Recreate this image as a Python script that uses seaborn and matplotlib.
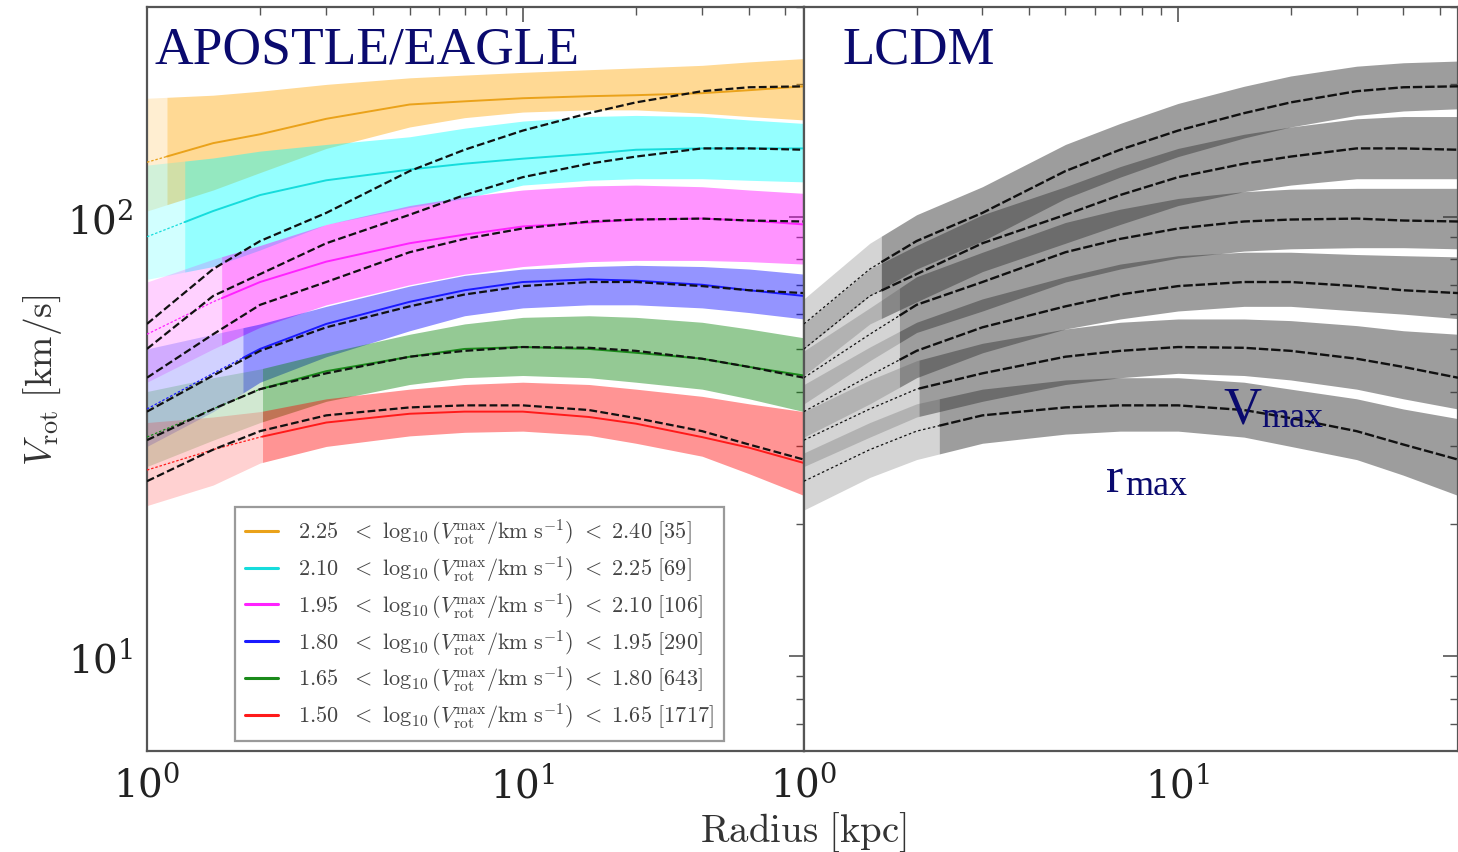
import numpy as np
import pandas as pd
import matplotlib
matplotlib.use("Agg")
import matplotlib.pyplot as plt
from matplotlib.lines import Line2D
from matplotlib.ticker import NullFormatter, LogLocator
import seaborn as sns

# ---------------- data ----------------
R = [1, 1.5, 2, 3, 5, 7, 10, 15, 20, 30, 40, 56]  # kpc

bin_lo = ["2.25", "2.10", "1.95", "1.80", "1.65", "1.50"]
bin_hi = ["2.40", "2.25", "2.10", "1.95", "1.80", "1.65"]
bin_n = [35, 69, 106, 290, 643, 1717]

# APOSTLE/EAGLE medians and spread, one per bin (top to bottom)
orange_med = [133, 147, 154, 167, 180, 183, 186, 188, 189, 191, 194, 198]
orange_hi = [186, 189, 193, 200, 207, 210, 213, 216, 218, 221, 225, 229]
orange_lo = [103, 115, 126, 143, 160, 168, 173, 175, 175, 172, 169, 166]

cyan_med = [90, 103, 112, 121, 128, 132, 135.5, 139, 142, 143, 143, 143]
cyan_hi = [131, 136, 141, 146, 152, 159, 165, 169, 170, 169, 166, 163]
cyan_lo = [72, 77, 84, 96, 105, 110, 118, 121, 122, 122, 121, 120]

magenta_med = [54, 64, 71, 79, 87, 91, 95, 97, 98.5, 99, 98, 96]
magenta_hi = [71, 80, 86, 96, 106, 111, 115, 117.5, 118, 117, 115, 113]
magenta_lo = [42, 50, 56, 63, 70, 74, 77, 79, 79.5, 79.5, 79, 78]

blue_med = [36.5, 44, 50, 57, 64, 68, 71, 72, 71.5, 70, 68, 66]
blue_hi = [50, 54, 57, 62.5, 69.5, 73.5, 76, 77, 77.5, 77, 76, 74]
blue_lo = [30, 36, 42, 48, 55, 59.5, 62, 63, 63, 62, 60.5, 58.5]

green_med = [31.5, 36.5, 40.5, 44.5, 48, 50, 50.5, 50, 49, 47.5, 45.5, 43.5]
green_hi = [40, 43, 45, 49, 54, 57, 59, 59.5, 59, 57.5, 55.5, 53]
green_lo = [27, 31, 34, 38, 41.5, 43, 43.5, 43, 42, 40.5, 38.5, 36]

red_med = [26.5, 29.5, 31.5, 34, 35.6, 36, 36, 35, 33.8, 31.5, 29.8, 27.5]
red_hi = [34, 35, 36, 38.5, 40.5, 41.5, 42, 41.5, 40.5, 39, 37.5, 36]
red_lo = [22, 24.5, 27.5, 30, 31.7, 32.3, 32.5, 31.8, 30.5, 28.5, 26, 23.2]

apo_rconv = [1.13, 1.26, 1.58, 1.8, 2.03, 2.03]

# LCDM medians and spread (same bins)
lcdm_a = [57, 76, 88, 102, 127, 142, 157, 172, 182, 193, 197, 198]
lcdm_a_hi = [65, 87, 101, 117, 146, 163, 181, 198, 209, 220, 224, 226]
lcdm_a_lo = [50, 66, 76, 88, 110, 123, 137, 151, 160, 170, 174, 176]
lcdm_b = [50, 66, 74, 87, 101, 112, 123, 132, 137, 143, 143, 142]
lcdm_b_hi = [57, 76, 86, 101, 117, 130, 143, 154, 160, 167, 169, 169]
lcdm_b_lo = [43.5, 57, 64, 75, 87, 96, 106, 114, 118, 122, 122, 122]
lcdm_c = [43, 54, 63, 71, 83, 89, 94, 97.5, 98.5, 99, 98, 97.5]
lcdm_c_hi = [49.5, 62, 73, 83, 97, 104, 110, 114, 115.5, 116, 116, 116]
lcdm_c_lo = [37.5, 47, 54.5, 61, 71, 76, 80.5, 83.5, 84.5, 85, 85, 84.5]
lcdm_d = [36, 43.5, 49.5, 56, 62.5, 66.5, 69.5, 71, 71, 69.5, 68, 67]
lcdm_d_hi = [41.5, 50.5, 57.5, 65, 73, 78, 81.5, 83, 83, 82, 81.5, 81]
lcdm_d_lo = [31.5, 37.5, 43, 49, 55.5, 58.5, 61, 62.5, 62.5, 61, 60, 58.6]
lcdm_e = [31, 36.5, 40.5, 44, 48, 49.5, 50.5, 50.3, 49.5, 47.5, 45.5, 43]
lcdm_e_hi = [36, 42.5, 47, 51.5, 55.5, 57.5, 58.5, 58.5, 58, 56.5, 55, 54]
lcdm_e_lo = [27, 31.5, 35, 38, 41.5, 43, 44, 43.5, 42.5, 40.5, 38.5, 36.5]
lcdm_f = [25, 29.5, 32.5, 35.3, 36.8, 37.2, 37.2, 36.3, 34.8, 32.5, 30.3, 28]
lcdm_f_hi = [29, 34, 37.5, 40.5, 42.5, 43, 43, 42, 40.5, 38.5, 36.5, 34.7]
lcdm_f_lo = [21.5, 25.5, 28, 30.5, 32, 32.5, 32.5, 31.5, 30, 28, 25.8, 23.2]

lcdm_rconv = [1.61, 1.61, 1.8, 1.8, 2.03, 2.3]

# ---------------- style ----------------
sns.set_theme(style="white")
plt.rcParams["font.family"] = ["DejaVu Serif"]
plt.rcParams["mathtext.fontset"] = "cm"

band_colors = ["orange", "cyan", "magenta", "blue", "green", "red"]
line_colors = ["#eaa21a", "#16dcdc", "#ff22ff", "#1a1aff", "#1a8a1a", "#ff1a1a"]
navy = "#0a0a6e"
spine_c = "#555555"

apo = [(orange_med, orange_lo, orange_hi), (cyan_med, cyan_lo, cyan_hi),
       (magenta_med, magenta_lo, magenta_hi), (blue_med, blue_lo, blue_hi),
       (green_med, green_lo, green_hi), (red_med, red_lo, red_hi)]
lcdm = [(lcdm_a, lcdm_a_lo, lcdm_a_hi), (lcdm_b, lcdm_b_lo, lcdm_b_hi),
        (lcdm_c, lcdm_c_lo, lcdm_c_hi), (lcdm_d, lcdm_d_lo, lcdm_d_hi),
        (lcdm_e, lcdm_e_lo, lcdm_e_hi), (lcdm_f, lcdm_f_lo, lcdm_f_hi)]


def split(r, v, rc):
    r = np.asarray(r, float)
    v = np.asarray(v, float)
    lv = 10 ** np.interp(np.log10(rc), np.log10(r), np.log10(v))
    m = r < rc
    return (np.r_[r[m], rc], np.r_[v[m], lv]), (np.r_[rc, r[~m]], np.r_[lv, v[~m]])


def band(ax, r, lo, hi, rc, color, a_light, a_full):
    (r1, l1), (r2, l2) = split(r, lo, rc)
    (_, h1), (_, h2) = split(r, hi, rc)
    ax.fill_between(r1, l1, h1, color=color, alpha=a_light, lw=0, zorder=1)
    ax.fill_between(r2, l2, h2, color=color, alpha=a_full, lw=0, zorder=1)


def line(ax, r, v, rc, color, lw_light, lw_full, ls_light, ls_full, z):
    (r1, v1), (r2, v2) = split(r, v, rc)
    d1 = pd.DataFrame({"r": r1, "v": v1})
    d2 = pd.DataFrame({"r": r2, "v": v2})
    sns.lineplot(data=d1, x="r", y="v", ax=ax, color=color, lw=lw_light,
                 ls=ls_light, legend=False, zorder=z, sort=False)
    sns.lineplot(data=d2, x="r", y="v", ax=ax, color=color, lw=lw_full,
                 ls=ls_full, legend=False, zorder=z, sort=False)


fig = plt.figure(figsize=(14.58, 8.53), dpi=100)
axL = fig.add_axes([0.1008, 0.1184, 0.4506, 0.8722])
axR = fig.add_axes([0.5514, 0.1184, 0.4486, 0.8722])

for ax in (axL, axR):
    ax.set_xscale("log")
    ax.set_yscale("log")

# left panel: APOSTLE/EAGLE
for (med, lo, hi), rc, bc in zip(apo, apo_rconv, band_colors):
    band(axL, R, lo, hi, rc, bc, 0.18, 0.42)
for (med, lo, hi), rc, lc in zip(apo, apo_rconv, line_colors):
    line(axL, R, med, rc, lc, 0.9, 1.4, (0, (2, 1.5)), "-", 3)
for (med, lo, hi) in lcdm:
    d = pd.DataFrame({"r": R, "v": med})
    sns.lineplot(data=d, x="r", y="v", ax=axL, color="#111111", lw=1.6,
                 ls=(0, (3.5, 1.5)), legend=False, zorder=4, sort=False)

# right panel: LCDM
for (med, lo, hi), rc in zip(lcdm, lcdm_rconv):
    band(axR, R, lo, hi, rc, "#3c3c3c", 0.22, 0.5)
for (med, lo, hi), rc in zip(lcdm, lcdm_rconv):
    line(axR, R, med, rc, "#111111", 0.9, 1.7, (0, (2, 2)), (0, (4, 1.2)), 4)

for ax in (axL, axR):
    ax.set_xlim(1, 56)
    ax.set_ylim(6.08, 300)
    ax.set_xlabel("")
    ax.set_ylabel("")
    ax.xaxis.set_major_locator(LogLocator(base=10, numticks=10))
    ax.xaxis.set_minor_locator(LogLocator(base=10, subs=np.arange(2, 10), numticks=20))
    ax.yaxis.set_minor_locator(LogLocator(base=10, subs=np.arange(2, 10), numticks=20))
    ax.xaxis.set_minor_formatter(NullFormatter())
    ax.yaxis.set_minor_formatter(NullFormatter())
    ax.tick_params(which="both", direction="in", top=True, right=True,
                   color=spine_c, labelcolor="#222222", labelsize=28, pad=10)
    ax.tick_params(which="major", length=11, width=1.2)
    ax.tick_params(which="minor", length=5.5, width=1.0)
    for s in ax.spines.values():
        s.set_color(spine_c)
        s.set_linewidth(1.6)
axR.tick_params(axis="y", which="both", labelleft=False)

axL.set_ylabel(r"$V_{\rm rot}\ {\rm [km/s]}$", fontsize=27, color="#333333", labelpad=2)
fig.text(0.551, 0.013, r"${\rm Radius\ [kpc]}$", fontsize=28, color="#333333",
         ha="center", va="baseline")

# panel titles and annotations
serif = ["Liberation Serif", "DejaVu Serif"]
axL.text(0.012, 0.926, "APOSTLE/EAGLE", transform=axL.transAxes, fontsize=38.5,
         family=serif, color=navy, ha="left", va="baseline")
axR.text(0.0596, 0.926, "LCDM", transform=axR.transAxes, fontsize=38,
         family=serif, color=navy, ha="left", va="baseline")
axR.text(0.641, 0.442, "V", transform=axR.transAxes, fontsize=38,
         family=serif, color=navy, ha="left", va="baseline", zorder=6)
axR.text(0.699, 0.437, "max", transform=axR.transAxes, fontsize=26,
         family=serif, color=navy, ha="left", va="baseline", zorder=6)
axR.text(0.462, 0.3495, "r", transform=axR.transAxes, fontsize=37,
         family=serif, color=navy, ha="left", va="baseline", zorder=6)
axR.text(0.491, 0.3454, "max", transform=axR.transAxes, fontsize=26,
         family=serif, color=navy, ha="left", va="baseline", zorder=6)

# legend
handles = [Line2D([0], [0], color=c, lw=2.2) for c in line_colors]
labels = [r"$%s\ \ <\ \log_{10}(V_{\rm rot}^{\rm max}/{\rm km\ s^{-1}})\ <\ %s\ [%d]$"
          % (a, b, n) for a, b, n in zip(bin_lo, bin_hi, bin_n)]
leg = axL.legend(handles, labels, loc="lower left", bbox_to_anchor=(0.134, 0.013),
                 fontsize=16, frameon=True, fancybox=False, framealpha=1,
                 edgecolor="#9a9a9a", handlelength=1.5, handletextpad=0.9,
                 labelspacing=0.3, borderpad=0.45, borderaxespad=0)
leg.get_frame().set_linewidth(1.6)
for t in leg.get_texts():
    t.set_color("#444444")
leg.set_zorder(10)

fig.savefig("out.png", dpi=100, facecolor="white")
